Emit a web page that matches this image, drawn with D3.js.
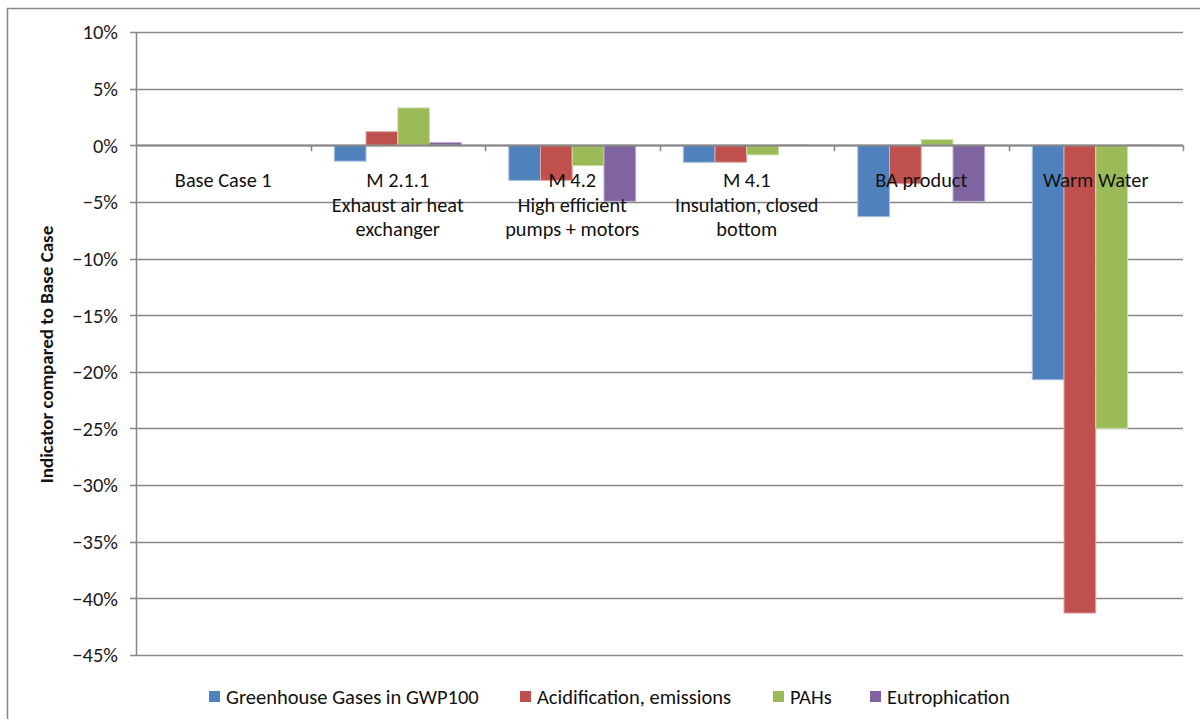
<!DOCTYPE html>
<html>
<head>
<meta charset="utf-8">
<script src="https://cdn.jsdelivr.net/npm/d3@7"></script>
<style>
  html, body { margin: 0; padding: 0; background: #fff; }
  svg { display: block; font-family: Carlito, Calibri, "Open Sans", Lato, sans-serif; }
</style>
</head>
<body>
<svg id="chart" width="1200" height="719"></svg>
<script>
const categories = [
  ["Base Case  1"],
  ["M 2.1.1", "Exhaust air heat", "exchanger"],
  ["M 4.2", "High efficient", "pumps + motors"],
  ["M 4.1", "Insulation, closed", "bottom"],
  ["BA product"],
  ["Warm Water"]
];
const seriesNames = ["Greenhouse Gases in GWP100", "Acidification, emissions", "PAHs", "Eutrophication"];
const seriesColors = ["#4F81BD", "#C0504D", "#9BBB59", "#8064A2"];
const seriesStrokes = ["#A7C0DE", "#DFA9A7", "#CDDDAC", "#BFB2D0"];
const greenhouse   = [0, -0.014, -0.031, -0.015, -0.063, -0.207];
const acidification = [0, 0.012, -0.031, -0.015, -0.034, -0.413];
const pahs         = [0, 0.033, -0.018, -0.0085, 0.005, -0.250];
const eutrophication = [0, 0.0025, -0.0495, 0.0003, -0.0495, 0.0003];
const yTicks = [0.10, 0.05, 0, -0.05, -0.10, -0.15, -0.20, -0.25, -0.30, -0.35, -0.40, -0.45];
const yTitle = "Indicator compared to Base Case";

const seriesValues = [greenhouse, acidification, pahs, eutrophication];

const svg = d3.select("#chart");
const pLeft = 136, pRight = 1183, pTop = 32, pBottom = 655;

// outer border
svg.append("rect").attr("x", 7.5).attr("y", 8.5).attr("width", 1200).attr("height", 720)
  .attr("fill", "none").attr("stroke", "#898989").attr("stroke-width", 1.5);

const y = d3.scaleLinear().domain([-0.45, 0.10]).range([pBottom, pTop]);
const x0 = d3.scaleBand().domain(d3.range(categories.length)).range([pLeft, pRight]).paddingInner(0).paddingOuter(0);
const x1 = d3.scaleBand().domain(d3.range(seriesNames.length))
  .range([0, x0.bandwidth()]).paddingOuter(0.75).paddingInner(0);

// gridlines
svg.append("g").selectAll("line").data(yTicks).join("line")
  .attr("x1", pLeft - 6).attr("x2", pRight)
  .attr("y1", d => Math.round(y(d)) + 0.5).attr("y2", d => Math.round(y(d)) + 0.5)
  .attr("stroke", "#888888").attr("stroke-width", 1.4);

// y axis line
svg.append("line").attr("x1", pLeft + 0.5).attr("x2", pLeft + 0.5)
  .attr("y1", pTop).attr("y2", pBottom + 1).attr("stroke", "#888888").attr("stroke-width", 1.5);

// tick labels
svg.append("g").selectAll("text").data(yTicks).join("text")
  .attr("x", 118).attr("y", d => y(d)).attr("dy", "0.36em")
  .attr("text-anchor", "end").attr("font-size", 20.5).attr("fill", "#1a1a1a")
  .text(d => d3.format(".0%")(d));

// bars
const groups = svg.append("g").selectAll("g").data(categories).join("g")
  .attr("transform", (d, i) => `translate(${x0(i)},0)`);
groups.selectAll("rect").data((d, i) => seriesValues.map((s, k) => ({k, v: s[i]}))).join("rect")
  .attr("x", d => x1(d.k))
  .attr("width", x1.bandwidth())
  .attr("y", d => y(Math.max(0, d.v)))
  .attr("height", d => Math.abs(y(d.v) - y(0)))
  .attr("fill", d => seriesColors[d.k])
  .attr("stroke", d => seriesStrokes[d.k]).attr("stroke-width", 1);

// zero axis line + category ticks
svg.append("line").attr("x1", pLeft).attr("x2", pRight)
  .attr("y1", Math.round(y(0)) + 0.5).attr("y2", Math.round(y(0)) + 0.5)
  .attr("stroke", "#868686").attr("stroke-width", 1.8);
svg.append("g").selectAll("line").data(d3.range(1, categories.length + 1)).join("line")
  .attr("x1", i => Math.round(x0.range()[0] + i * x0.step()) + 0.5)
  .attr("x2", i => Math.round(x0.range()[0] + i * x0.step()) + 0.5)
  .attr("y1", y(0)).attr("y2", y(0) + 6)
  .attr("stroke", "#868686").attr("stroke-width", 1.5);

// category labels
const lab = svg.append("g").selectAll("text").data(categories).join("text")
  .attr("text-anchor", "middle").attr("font-size", 20.3).attr("fill", "#111");
lab.each(function(lines, i) {
  const t = d3.select(this);
  lines.forEach((ln, j) => {
    t.append("tspan").attr("x", x0(i) + x0.bandwidth() / 2).attr("y", 187 + j * 24.5).text(ln);
  });
});

// y title
svg.append("text").attr("transform", `translate(53,${(pTop + pBottom) / 2 + 11}) rotate(-90)`)
  .attr("text-anchor", "middle").attr("font-size", 19).attr("font-weight", "bold").attr("fill", "#111")
  .text(yTitle);

// legend
const legendX = [209, 520, 773, 870];
const lg = svg.append("g").selectAll("g").data(seriesNames).join("g")
  .attr("transform", (d, i) => `translate(${legendX[i]},691)`);
lg.append("rect").attr("width", 11).attr("height", 11).attr("y", 0).attr("fill", (d, i) => seriesColors[i]);
lg.append("text").attr("x", 17).attr("y", 5.5).attr("dy", "0.36em").attr("font-size", 20.5).attr("fill", "#111")
  .text(d => d);
</script>
</body>
</html>
